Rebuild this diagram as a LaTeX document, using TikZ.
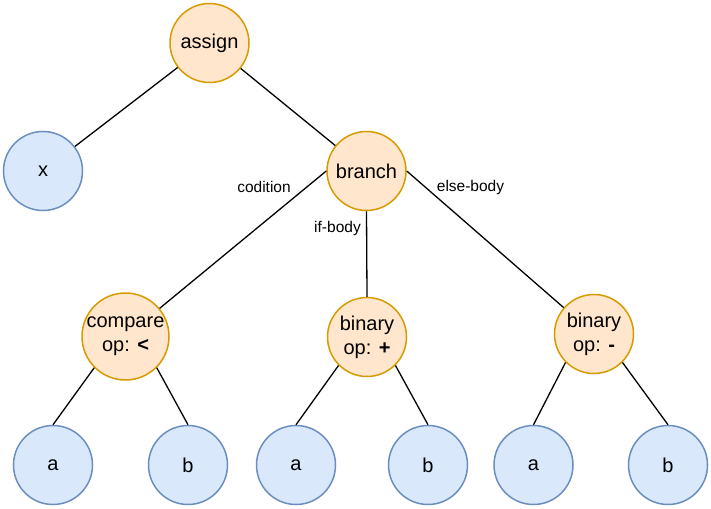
\documentclass[tikz,border=0pt]{standalone}
\usepackage{fontspec}
\setmainfont{Liberation Sans}
\definecolor{orF}{HTML}{FFE6CC}
\definecolor{orS}{HTML}{D79B00}
\definecolor{blF}{HTML}{DAE8FC}
\definecolor{blS}{HTML}{6C8EBF}
\begin{document}
\begin{tikzpicture}[x=1pt,y=-1pt,
  inner/.style={circle, draw=orS, fill=orF, line width=1.5pt, minimum size=79pt, inner sep=0pt, font=\fontsize{20}{24}\selectfont, align=center},
  leaf/.style={circle, draw=blS, fill=blF, line width=1.5pt, minimum size=79pt, inner sep=0pt, font=\fontsize{20}{24}\selectfont, align=center},
  edge/.style={line width=1.3pt, black},
  lbl/.style={font=\fontsize{15.5}{18}\selectfont, inner sep=0pt}]
\useasboundingbox (0,0) rectangle (711,508);
\node[inner] (assign) at (209.5,43) {assign};
\node[leaf] (x) at (43,171) {x};
\node[inner] (branch) at (366.5,171) {branch};
\node[inner] (cmp) at (125.5,336.5) {compare\\op: \textbf{<}};
\node[inner] (plus) at (367,337) {binary\\op: \textbf{+}};
\node[inner] (minus) at (594,334) {binary\\op: \textbf{-}};
\node[leaf] (a1) at (53,465) {a};
\node[leaf] (b1) at (188,465) {b};
\node[leaf] (a2) at (296,465) {a};
\node[leaf] (b2) at (428,465) {b};
\node[leaf] (a3) at (533.5,465) {a};
\node[leaf] (b3) at (668,465) {b};
\draw[edge] (assign) -- (x);
\draw[edge] (assign) -- (branch);
\draw[edge] (branch.west) -- (cmp);
\draw[edge] (branch.south) -- (plus.north);
\draw[edge] (branch.east) -- (minus);
\draw[edge] (cmp.south west) -- (a1.north);
\draw[edge] (cmp.south east) -- (b1.north);
\draw[edge] (plus.south west) -- (a2.north);
\draw[edge] (plus.south east) -- (b2.north);
\draw[edge] (minus.south west) -- (a3.north);
\draw[edge] (minus.south east) -- (b3.north);
\node[lbl] (lc) at (264,187) {codition};
\node[lbl] (li) at (337.5,228) {if-body};
\node[lbl] (le) at (470.5,187) {else-body};
\end{tikzpicture}
\end{document}
